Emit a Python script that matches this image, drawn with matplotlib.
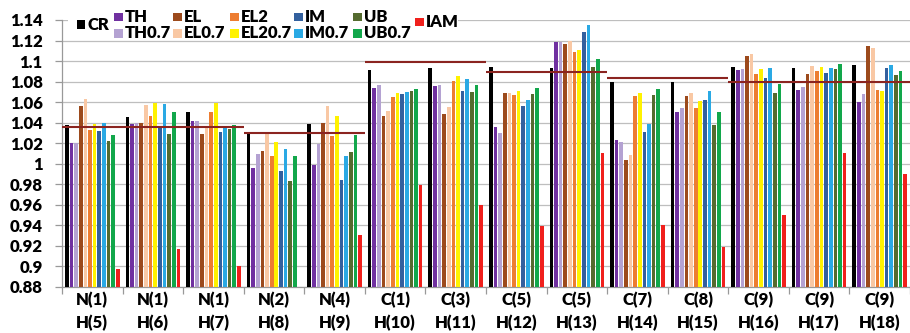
import matplotlib
matplotlib.use("Agg")
import matplotlib.pyplot as plt
from matplotlib.patches import Rectangle
import numpy as np

groups = ["N(1)\nH(5)", "N(1)\nH(6)", "N(1)\nH(7)", "N(2)\nH(8)", "N(4)\nH(9)",
          "C(1)\nH(10)", "C(3)\nH(11)", "C(5)\nH(12)", "C(5)\nH(13)", "C(7)\nH(14)",
          "C(8)\nH(15)", "C(9)\nH(16)", "C(9)\nH(17)", "C(9)\nH(18)"]

CR    = [1.038, 1.045, 1.050, 1.031, 1.039, 1.091, 1.093, 1.094, 1.093, 1.080, 1.080, 1.094, 1.093, 1.096]
TH    = [1.020, 1.039, 1.042, 0.996, 0.999, 1.074, 1.076, 1.036, 1.119, 1.023, 1.050, 1.091, 1.072, 1.060]
TH07  = [1.020, 1.040, 1.042, 1.009, 1.019, 1.077, 1.077, 1.030, 1.119, 1.021, 1.054, 1.092, 1.075, 1.068]
EL    = [1.056, 1.040, 1.029, 1.012, 1.040, 1.046, 1.048, 1.069, 1.117, 1.004, 1.066, 1.105, 1.087, 1.115]
EL07  = [1.063, 1.057, 1.035, 1.029, 1.056, 1.051, 1.055, 1.069, 1.120, 1.008, 1.069, 1.107, 1.095, 1.113]
EL2   = [1.033, 1.046, 1.050, 1.007, 1.027, 1.065, 1.081, 1.067, 1.109, 1.066, 1.054, 1.087, 1.090, 1.072]
EL207 = [1.039, 1.059, 1.059, 1.021, 1.046, 1.069, 1.085, 1.071, 1.111, 1.069, 1.061, 1.092, 1.094, 1.071]
IM    = [1.032, 1.037, 1.031, 0.993, 0.984, 1.068, 1.071, 1.056, 1.128, 1.031, 1.062, 1.083, 1.088, 1.093]
IM07  = [1.040, 1.058, 1.037, 1.014, 1.007, 1.070, 1.082, 1.062, 1.135, 1.039, 1.071, 1.093, 1.093, 1.096]
UB    = [1.022, 1.029, 1.034, 0.983, 1.011, 1.071, 1.070, 1.068, 1.094, 1.067, 1.038, 1.069, 1.092, 1.086]
UB07  = [1.028, 1.050, 1.038, 1.007, 1.028, 1.073, 1.077, 1.074, 1.102, 1.073, 1.050, 1.078, 1.097, 1.090]
IAM   = [0.897, 0.917, 0.900, 0.870, 0.930, 0.979, 0.960, 0.939, 1.010, 0.940, 0.919, 0.950, 1.010, 0.990]

# reference (dark red) lines: value, first group, last group
ref_values = [1.036, 1.030, 1.099, 1.089, 1.083, 1.080]
ref_start  = [0, 3, 5, 7, 9, 11]
ref_end    = [2, 4, 6, 8, 10, 13]

yticks = [0.88, 0.9, 0.92, 0.94, 0.96, 0.98, 1, 1.02, 1.04, 1.06, 1.08, 1.1, 1.12, 1.14]
ytick_labels = ["0.88", "0.9", "0.92", "0.94", "0.96", "0.98", "1", "1.02", "1.04",
                "1.06", "1.08", "1.1", "1.12", "1.14"]

series = [
    ("CR", CR, "#000000"),
    ("TH", TH, "#7030A0"),
    ("TH0.7", TH07, "#B4A2D2"),
    ("EL", EL, "#9C4A1C"),
    ("EL0.7", EL07, "#F9C8A4"),
    ("EL2", EL2, "#ED7D31"),
    ("EL20.7", EL207, "#FFF200"),
    ("IM", IM, "#33609E"),
    ("IM0.7", IM07, "#2AA9E4"),
    ("UB", UB, "#556B2F"),
    ("UB0.7", UB07, "#12A74B"),
    ("IAM", IAM, "#F0201C"),
]

FONT = "Lato"
plt.rcParams["font.family"] = [FONT, "DejaVu Sans"]
FW = "heavy"
FS = 12

W, H = 910, 333
fig = plt.figure(figsize=(W / 100, H / 100), dpi=100)
ax = fig.add_axes([62 / W, 1 - 286.7 / H, (W - 62) / W, (286.7 - 20) / H])

x = np.arange(len(groups))
pitch = 0.0765
bw = 0.06
n = len(series)
for i, (name, vals, col) in enumerate(series):
    ax.bar(x + (i - (n - 1) / 2) * pitch, np.array(vals) - 0.88, bottom=0.88,
           width=bw, color=col, zorder=3, linewidth=0)

for v, s, e in zip(ref_values, ref_start, ref_end):
    ax.plot([s - 0.5, e + 0.5], [v, v], color="#8B2420", lw=1.5, zorder=4,
            solid_capstyle="butt")

ax.set_xlim(-0.5, len(groups) - 0.5)
ax.set_ylim(0.88, 1.14)
ax.set_yticks(yticks)
ax.set_yticklabels(ytick_labels, fontsize=FS, fontweight=FW)
ax.yaxis.grid(True, color="#BEBEBE", lw=0.9, zorder=0)
ax.set_axisbelow(True)

ax.set_xticks(x)
ax.set_xticklabels(groups, fontsize=FS, fontweight=FW, linespacing=1.45)
ax.set_xticks(np.arange(len(groups) + 1) - 0.5, minor=True)
ax.tick_params(axis="x", which="major", length=0, pad=4)
ax.tick_params(axis="x", which="minor", length=5, color="#999999", width=0.9)
ax.tick_params(axis="y", length=5, color="#999999", width=0.9, pad=9)

for sp in ["top", "right"]:
    ax.spines[sp].set_visible(False)
for sp in ["left", "bottom"]:
    ax.spines[sp].set_color("#999999")
    ax.spines[sp].set_linewidth(0.9)

# legend (manual, in figure pixel coordinates)
def fx(px):
    return px / W

def fy(py):
    return 1 - py / H

fig.patches.append(Rectangle((fx(68), fy(40)), fx(458) - fx(68), fy(4) - fy(40),
                             transform=fig.transFigure, facecolor="white",
                             edgecolor="none", zorder=5))

sq = 8.5
legend_items = [
    ("CR", 76.5, 24.5),
    ("TH", 114, 17), ("TH0.7", 114, 33.5),
    ("EL", 173, 17), ("EL0.7", 173, 33.5),
    ("EL2", 230, 17), ("EL20.7", 230, 33.5),
    ("IM", 294, 17), ("IM0.7", 294, 33.5),
    ("UB", 353, 17), ("UB0.7", 353, 33.5),
    ("IAM", 415, 22),
]
colors = {name: col for name, _, col in series}
for name, px, py in legend_items:
    fig.patches.append(Rectangle((fx(px), fy(py + sq / 2)), fx(sq), sq / H,
                                 transform=fig.transFigure,
                                 facecolor=colors[name], edgecolor="none", zorder=6))
    fig.text(fx(px + sq + 2.5), fy(py), name, fontsize=FS, fontweight=FW,
             va="center", ha="left", zorder=7)

fig.savefig("out.png", dpi=100)
